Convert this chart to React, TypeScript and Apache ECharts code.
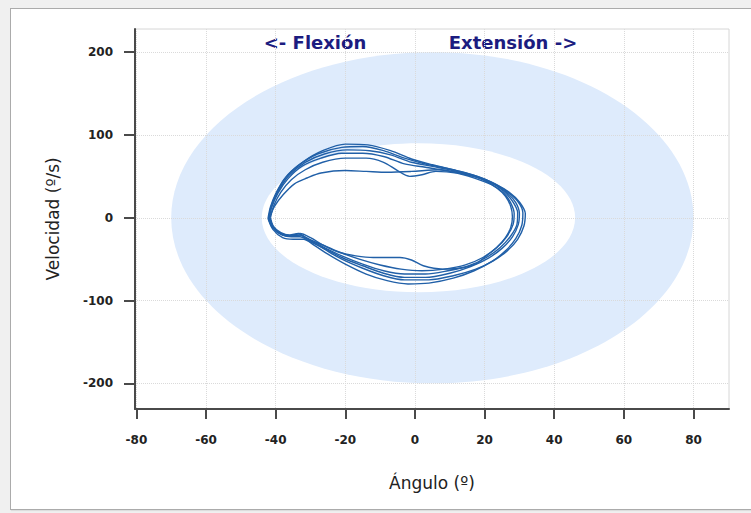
import React, { useEffect, useRef } from 'react';
import * as echarts from 'echarts';

// Tick values
const xTicks = [-80, -60, -40, -20, 0, 20, 40, 60, 80];
const yTicks = [-200, -100, 0, 100, 200];

// Reference zones: [centerX, centerY, radiusX, radiusY] in data units
const outerZone = [5, 0, 75, 200];
const innerZone = [1, 0, 45, 90];

// Phase loops (angle º, velocity º/s)
const loop1 = [[-42,0],[-41.3,14],[-39.5,32],[-36.5,52],[-32,68],[-26.5,81],[-20,89],[-13.5,88],[-7,81],[-1,71],[5,64],[12,57],[18,50],[23,41],[27,31],[30,19],[31.7,5],[31.3,-10],[29.5,-26],[26.5,-40],[22.5,-52],[17.5,-62],[11,-70],[4,-75],[-3,-75],[-9,-70],[-15,-61],[-21,-50],[-26,-38],[-30,-28],[-33,-21],[-35.5,-22],[-38.5,-20],[-41,-11],[-42,0]];
const loop2 = [[-42.2,-1],[-41.5,13],[-40,29],[-37.5,47],[-33.5,63],[-28,77],[-21,85],[-15,86],[-9,81],[-3,72],[3,65],[10,59],[17,51],[22,43],[26,33],[29.5,20],[31,6],[30.7,-9],[29,-25],[26,-40],[22,-53],[17,-64],[11,-73],[4,-79],[-2,-80],[-8,-76],[-14,-68],[-20,-56],[-25,-44],[-29,-33],[-32,-26],[-35,-26],[-38,-24],[-40.8,-14],[-42.2,-1]];
const loop3 = [[-41.8,1],[-41,16],[-39,34],[-36,52],[-31.5,67],[-26,77],[-19.5,82],[-13,81],[-7,76],[-1,67],[5,62],[12,56],[18,49],[23,40],[26.5,30],[29,18],[30,5],[29.7,-8],[28,-23],[25,-37],[21,-49],[16,-59],[10,-67],[3,-72],[-3,-72],[-9,-67],[-15,-58],[-21,-48],[-26,-37],[-30,-29],[-33,-23],[-35.5,-23],[-38,-21],[-40.5,-12],[-41.8,1]];
const loop4 = [[-42,-2],[-41.2,12],[-39.3,30],[-36.5,47],[-32.5,62],[-27,72],[-21,78],[-15,78],[-9,74],[-3,65],[3,61],[10,56],[17,50],[22,42],[25.5,32],[28,20],[29.5,6],[29.3,-8],[27.5,-22],[24.5,-36],[20.5,-48],[15.5,-58],[9.5,-64],[3,-68],[-3,-68],[-9,-64],[-15,-56],[-21,-46],[-26,-36],[-30,-27],[-33,-21],[-36,-21],[-38.5,-19],[-41,-11],[-42,-2]];
const loop5 = [[-41.5,0],[-40.5,15],[-38.5,31],[-35.5,46],[-31.5,58],[-26.5,67],[-20,72],[-14,72],[-9,67],[-5,57],[-1.5,50],[2,52],[6,56],[12,54],[17,48],[22,40],[25.5,30],[27.5,18],[28.5,5],[28.2,-8],[26.5,-22],[23.5,-36],[19.5,-48],[14.5,-57],[8.5,-62],[2,-64],[-4,-62],[-10,-57],[-16,-50],[-22,-41],[-27,-32],[-31,-25],[-33.5,-19],[-36,-21],[-38.5,-18],[-40.7,-10],[-41.5,0]];
const loop6 = [[-41.7,1],[-40.3,14],[-37.8,28],[-34.6,41],[-31,48],[-27,54],[-20,57],[-14,56],[-8,55],[-1,56],[7,58],[12,55],[16,51],[20,45],[23.5,36],[26,26],[27.5,14],[28,1],[27.5,-12],[26,-24],[23.5,-36],[20.5,-46],[17.8,-55],[13,-61],[8,-62],[2.4,-58],[-1,-51],[-4.3,-48],[-12,-48],[-17,-46],[-21.6,-42],[-26,-34],[-30,-24],[-33,-19],[-36,-22],[-39,-19],[-41,-10],[-41.7,1]];

const loops = [loop1, loop2, loop3, loop4, loop5, loop6];

const FONT = 'DejaVu Sans';
const AXIS_COLOR = '#4a4a4a';
const LOOP_COLOR = '#2160a8';

export default function App() {
  const ref = useRef<HTMLDivElement>(null);

  useEffect(() => {
    if (!ref.current) return;
    const chart = echarts.init(ref.current, null, { renderer: 'svg' });

    const zoneSeries = (zone: number[], color: string, z2: number) => ({
      type: 'custom',
      z: -1,
      silent: true,
      clip: false,
      data: [zone],
      renderItem: (_params: any, api: any) => {
        const c = api.coord([api.value(0), api.value(1)]);
        const s = api.size([api.value(2), api.value(3)]);
        return {
          type: 'ellipse',
          z2,
          shape: { cx: c[0], cy: c[1], rx: s[0], ry: s[1] },
          style: { fill: color, stroke: 'none' },
        };
      },
    });

    const labelStyle = {
      fontFamily: FONT,
      fontWeight: 'bold' as const,
      fontSize: 12,
      color: '#222',
    };
    const nameStyle = { fontFamily: FONT, fontSize: 17, color: '#222' };
    const splitLine = { show: true, lineStyle: { type: 'dotted' as const, color: '#dadada', width: 1 } };

    chart.setOption({
      animation: false,
      grid: {
        left: 135,
        right: 22,
        top: 29,
        bottom: 104,
        show: true,
        borderColor: '#d6d6d6',
        borderWidth: 1,
        backgroundColor: 'transparent',
        containLabel: false,
        outerBoundsMode: 'none',
      },
      xAxis: {
        type: 'value',
        min: -80.4,
        max: 90.2,
        splitNumber: 9,
        axisLine: { show: true, onZero: false, lineStyle: { color: AXIS_COLOR, width: 2 } },
        axisTick: { show: true, length: 10, customValues: xTicks, lineStyle: { color: AXIS_COLOR, width: 2 } },
        axisLabel: { ...labelStyle, customValues: xTicks, margin: 25 },
        splitLine,
        name: 'Ángulo (º)',
        nameLocation: 'middle',
        nameGap: 65,
        nameTextStyle: nameStyle,
      },
      yAxis: {
        type: 'value',
        min: -231,
        max: 228,
        splitNumber: 5,
        axisLine: { show: true, onZero: false, lineStyle: { color: AXIS_COLOR, width: 2 } },
        axisTick: { show: true, length: 11, customValues: yTicks, lineStyle: { color: AXIS_COLOR, width: 2 } },
        axisLabel: { ...labelStyle, customValues: yTicks, margin: 22 },
        splitLine,
        name: 'Velocidad (º/s)',
        nameLocation: 'middle',
        nameGap: 74,
        nameTextStyle: nameStyle,
      },
      graphic: [
        {
          type: 'text',
          x: 315,
          y: 42,
          style: {
            text: '<- Flexión',
            fontFamily: FONT,
            fontWeight: 'bold',
            fontSize: 18,
            fill: '#1c1c80',
            align: 'center',
            verticalAlign: 'middle',
          },
        },
        {
          type: 'text',
          x: 513,
          y: 42,
          style: {
            text: 'Extensión ->',
            fontFamily: FONT,
            fontWeight: 'bold',
            fontSize: 18,
            fill: '#1c1c80',
            align: 'center',
            verticalAlign: 'middle',
          },
        },
      ],
      series: [
        zoneSeries(outerZone, '#deebfc', 1),
        zoneSeries(innerZone, '#ffffff', 2),
        ...loops.map((loop) => ({
          type: 'line',
          data: loop,
          showSymbol: false,
          smooth: 0.3,
          silent: true,
          z: 3,
          lineStyle: { color: LOOP_COLOR, width: 1.4 },
        })),
      ],
    });

    return () => {
      chart.dispose();
    };
  }, []);

  return (
    <div
      style={{
        position: 'fixed',
        left: 0,
        top: 0,
        width: 751,
        height: 513,
        background: '#f0f0f0',
        overflow: 'hidden',
      }}
    >
      <div
        style={{
          position: 'absolute',
          left: 10,
          top: 8,
          width: 760,
          height: 500,
          background: '#ffffff',
          border: '1px solid #ababab',
          boxShadow: '1px 1px 1px rgba(0,0,0,0.08)',
        }}
      />
      <div ref={ref} style={{ position: 'absolute', left: 0, top: 0, width: 751, height: 513 }} />
    </div>
  );
}
